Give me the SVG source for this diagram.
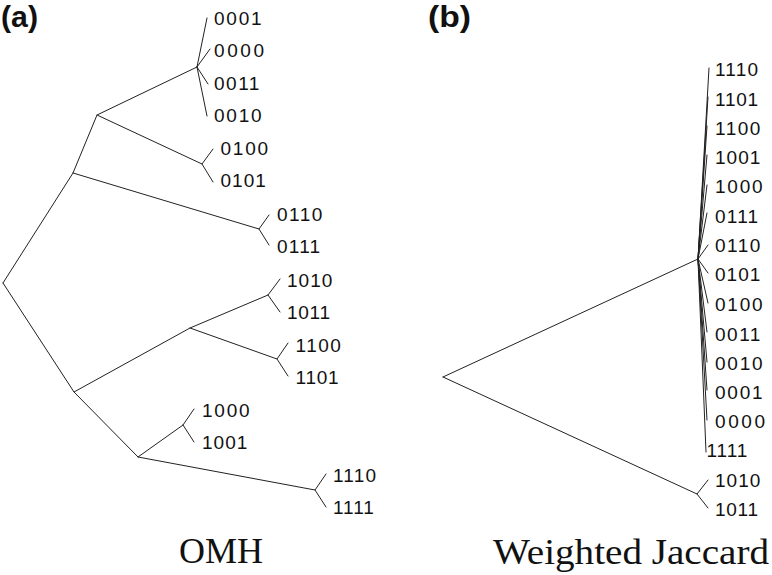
<svg xmlns="http://www.w3.org/2000/svg" width="772" height="575" viewBox="0 0 772 575">
<style>
.e{stroke:#222;stroke-width:1;fill:none;stroke-linecap:round}
.l{font-family:"Liberation Sans",Arial,Helvetica,sans-serif;font-size:19px;fill:#111}
.p{font-family:"Liberation Sans",Arial,Helvetica,sans-serif;font-size:29px;font-weight:bold;fill:#111}
.c{font-family:"Liberation Serif","Times New Roman",serif;font-size:36px;fill:#111}
</style>
<rect width="772" height="575" fill="#fff"/>
<text class="p" x="1" y="27" textLength="37" lengthAdjust="spacingAndGlyphs">(a)</text>
<text class="p" x="428" y="27" textLength="43" lengthAdjust="spacingAndGlyphs">(b)</text>
<text class="c" x="179" y="563" textLength="84" lengthAdjust="spacingAndGlyphs">OMH</text>
<text class="c" x="493" y="564" textLength="276" lengthAdjust="spacingAndGlyphs">Weighted Jaccard</text>
<g id="connectors">
<path class="e" d="M3,283 L73,173 L97,115 L197,67"/>
<path class="e" d="M197,67 L207,18 M197,67 L210,49 M197,67 L208,84 M197,67 L207,116"/>
<path class="e" d="M97,115 L202,164 L213,149 M202,164 L213,182"/>
<path class="e" d="M73,173 L259,229 L269,215 M259,229 L269,245"/>
<path class="e" d="M3,283 L74,392 L190,328 L268,295 L280,279 M268,295 L280,312"/>
<path class="e" d="M190,328 L277,359 L288,343 M277,359 L288,376"/>
<path class="e" d="M74,392 L138,457 L183,425 L194,409 M183,425 L194,442"/>
<path class="e" d="M138,457 L315,490 L326,474 M315,490 L326,507"/>
<path class="e" d="M443,377 L698,259 M443,377 L697,494 L708,480 M697,494 L708,508"/>
<path class="e" d="M698,259 L709,68 M698,259 L708,97 M698,259 L707,126 M698,259 L707,155 M698,259 L707,185 M698,259 L707,213 M698,259 L708,245 M698,259 L708,273"/>
<path class="e" d="M698,259 L708,303 M698,259 L707,332 M698,259 L707,362 M698,259 L707,390 M698,259 L707,420 M698,259 L706,452"/>
</g>
<g id="a-0001"><text class="l" x="214" y="25" textLength="47.7" lengthAdjust="spacing">0001</text></g>
<g id="a-0000"><text class="l" x="214" y="57" textLength="50" lengthAdjust="spacing">0000</text></g>
<g id="a-0011"><text class="l" x="214" y="90" textLength="45.4" lengthAdjust="spacing">0011</text></g>
<g id="a-0010"><text class="l" x="214" y="122" textLength="47.7" lengthAdjust="spacing">0010</text></g>
<g id="a-0100"><text class="l" x="220.5" y="155" textLength="47.7" lengthAdjust="spacing">0100</text></g>
<g id="a-0101"><text class="l" x="220.5" y="187" textLength="45.4" lengthAdjust="spacing">0101</text></g>
<g id="a-0110"><text class="l" x="277" y="221" textLength="45.4" lengthAdjust="spacing">0110</text></g>
<g id="a-0111"><text class="l" x="277" y="253" textLength="43.1" lengthAdjust="spacing">0111</text></g>
<g id="a-1010"><text class="l" x="287" y="287" textLength="45.4" lengthAdjust="spacing">1010</text></g>
<g id="a-1011"><text class="l" x="287" y="319" textLength="43.1" lengthAdjust="spacing">1011</text></g>
<g id="a-1100"><text class="l" x="295.5" y="352" textLength="45.4" lengthAdjust="spacing">1100</text></g>
<g id="a-1101"><text class="l" x="295.5" y="384" textLength="43.1" lengthAdjust="spacing">1101</text></g>
<g id="a-1000"><text class="l" x="202" y="417" textLength="47.7" lengthAdjust="spacing">1000</text></g>
<g id="a-1001"><text class="l" x="202" y="449" textLength="45.4" lengthAdjust="spacing">1001</text></g>
<g id="a-1110"><text class="l" x="333" y="482" textLength="43.1" lengthAdjust="spacing">1110</text></g>
<g id="a-1111"><text class="l" x="333" y="514" textLength="40.8" lengthAdjust="spacing">1111</text></g>
<g id="b-1110"><text class="l" x="715" y="76" textLength="43.1" lengthAdjust="spacing">1110</text></g>
<g id="b-1101"><text class="l" x="715" y="106" textLength="43.1" lengthAdjust="spacing">1101</text></g>
<g id="b-1100"><text class="l" x="715" y="135" textLength="45.4" lengthAdjust="spacing">1100</text></g>
<g id="b-1001"><text class="l" x="715" y="164" textLength="45.4" lengthAdjust="spacing">1001</text></g>
<g id="b-1000"><text class="l" x="715" y="193" textLength="47.7" lengthAdjust="spacing">1000</text></g>
<g id="b-0111"><text class="l" x="715" y="223" textLength="43.1" lengthAdjust="spacing">0111</text></g>
<g id="b-0110"><text class="l" x="715" y="252" textLength="45.4" lengthAdjust="spacing">0110</text></g>
<g id="b-0101"><text class="l" x="715" y="281" textLength="45.4" lengthAdjust="spacing">0101</text></g>
<g id="b-0100"><text class="l" x="715" y="311" textLength="47.7" lengthAdjust="spacing">0100</text></g>
<g id="b-0011"><text class="l" x="715" y="341" textLength="45.4" lengthAdjust="spacing">0011</text></g>
<g id="b-0010"><text class="l" x="715" y="370" textLength="47.7" lengthAdjust="spacing">0010</text></g>
<g id="b-0001"><text class="l" x="715" y="399" textLength="47.7" lengthAdjust="spacing">0001</text></g>
<g id="b-0000"><text class="l" x="715" y="428" textLength="50" lengthAdjust="spacing">0000</text></g>
<g id="b-1111"><text class="l" x="706.5" y="457" textLength="40.8" lengthAdjust="spacing">1111</text></g>
<g id="b-1010"><text class="l" x="715" y="487" textLength="45.4" lengthAdjust="spacing">1010</text></g>
<g id="b-1011"><text class="l" x="715" y="516" textLength="43.1" lengthAdjust="spacing">1011</text></g>
</svg>
